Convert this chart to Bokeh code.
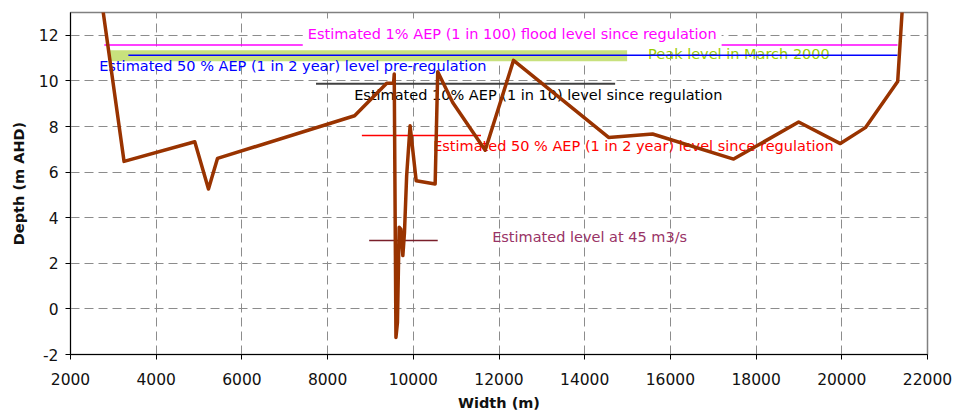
from bokeh.plotting import figure
from bokeh.models import Range1d, FixedTicker
from bokeh.core.properties import value
from bokeh.embed import file_html
from bokeh.resources import INLINE

# Cross-section profile
width_m = [2690, 3250, 4900, 5220, 5430, 8630, 9380, 9540, 9555, 9595, 9630,
           9670, 9710, 9756, 9794, 9845, 9925, 10067, 10510, 10570, 10920,
           11678, 12339, 14558, 15584, 17475, 18993, 19966, 20550, 21304, 21440]
depth_m = [14.0, 6.47, 7.33, 5.26, 6.6, 8.47, 9.9, 9.9, 10.3, -1.25, -0.6,
           3.58, 3.5, 2.34, 3.35, 5.85, 8.03, 5.62, 5.48, 10.4, 9.05,
           6.96, 10.9, 7.52, 7.67, 6.57, 8.2, 7.25, 7.95, 9.97, 14.0]

x_ticks = [2000, 4000, 6000, 8000, 10000, 12000, 14000, 16000, 18000, 20000, 22000]
y_ticks = [-2, 0, 2, 4, 6, 8, 10, 12]
y_tick_labels = {-2: "-2", 0: "0", 2: "2", 4: "4", 6: "6", 8: "8", 10: "10", 12: "12"}

# Reference levels
level_depth = [11.58, 11.12, 9.88, 7.6, 3.0]
level_x0 = [2790, 3350, 7730, 8800, 8970]
level_x1 = [21300, 21300, 14710, 11580, 10570]
level_colors = ["#FF00FF", "#0000FF", "#404040", "#FF0000", "#7A1F2A"]
level_widths = [1.5, 1.5, 2, 1.5, 1.5]

# Peak level in March 2000 band
peak_depth = [11.1]
peak_x0 = [2920]
peak_x1 = [14990]

# Labels
label_texts = ["Estimated  50 % AEP (1 in 2 year) level pre-regulation",
               "Peak level in March 2000",
               "Estimated 10% AEP (1 in 10) level since regulation",
               "Estimated 50 % AEP (1 in 2 year) level since regulation",
               "Estimated level at 45 m3/s"]
label_x = [2670, 15480, 8620, 10463, 11840]
label_y = [10.66, 11.17, 9.37, 7.15, 3.15]
label_colors = ["#0000FF", "#99CC00", "#000000", "#FF0000", "#993366"]

flood_label = ["Estimated 1% AEP (1 in 100) flood level since regulation"]
flood_x = [7420]
flood_y = [12.06]

p = figure(width=953, height=414, x_range=Range1d(2000, 22000), y_range=Range1d(-2, 13),
           output_backend="svg", toolbar_location=None,
           min_border_left=70, min_border_right=26, min_border_top=12, min_border_bottom=60)

p.outline_line_color = "#808080"
p.outline_line_width = 1.5
p.background_fill_color = "white"
p.border_fill_color = "white"

for ax, ticks in ((p.xaxis, x_ticks), (p.yaxis, y_ticks)):
    ax.ticker = FixedTicker(ticks=ticks)
    ax.minor_tick_line_color = None
    ax.major_tick_in = 0
    ax.major_tick_out = 5
    ax.axis_line_color = "black"
    ax.major_tick_line_color = "black"
    ax.major_label_text_font = "DejaVu Sans"
    ax.major_label_text_font_size = "15.5px"
    ax.major_label_text_color = "#111111"
    ax.axis_label_text_font = "DejaVu Sans"
    ax.axis_label_text_font_style = "bold"
    ax.axis_label_text_font_size = "14.5px"
    ax.axis_label_text_color = "#111111"

p.yaxis.major_label_overrides = y_tick_labels
p.xaxis.axis_label = "Width (m)"
p.yaxis.axis_label = "Depth (m AHD)"
p.xaxis.major_label_standoff = 13
p.xaxis.axis_label_standoff = 7
p.yaxis.major_label_standoff = 7
p.yaxis.axis_label_standoff = 9

p.xgrid.ticker = FixedTicker(ticks=x_ticks)
p.ygrid.ticker = FixedTicker(ticks=y_ticks)
for g in (p.xgrid, p.ygrid):
    g.grid_line_color = "#8C8C8C"
    g.grid_line_dash = "9 5"
    g.grid_line_width = 1

# peak band
p.segment(x0=peak_x0, y0=peak_depth, x1=peak_x1, y1=peak_depth,
          line_color="#C8E17D", line_width=11, line_cap="butt")

# flood level line first (covered by its label box)
p.segment(x0=level_x0[:1], y0=level_depth[:1], x1=level_x1[:1], y1=level_depth[:1],
          line_color=level_colors[0], line_width=level_widths[0])

p.text(x=flood_x, y=flood_y, text=flood_label, text_color="#FF00FF",
       text_font=value("DejaVu Sans"), text_font_size=value("14.5px"),
       text_align="left", text_baseline="middle",
       background_fill_color="white", padding=5)

p.text(x=label_x, y=label_y, text=label_texts, text_color=label_colors,
       text_font=value("DejaVu Sans"), text_font_size=value("14.5px"),
       text_align="left", text_baseline="middle")

p.segment(x0=level_x0[1:], y0=level_depth[1:], x1=level_x1[1:], y1=level_depth[1:],
          line_color=level_colors[1:], line_width=level_widths[1:])

p.line(width_m, depth_m, line_color="#993300", line_width=3.5, line_join="round")

open("out.html", "w").write(file_html(p, INLINE))
